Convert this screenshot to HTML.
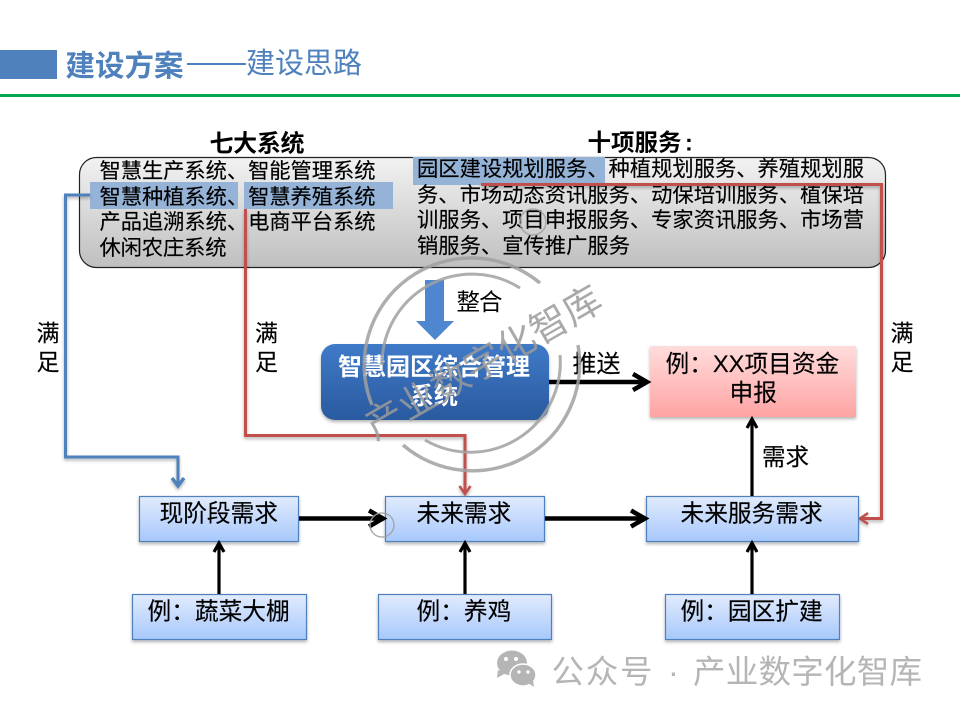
<!DOCTYPE html>
<html><head><meta charset="utf-8">
<style>
html,body{margin:0;padding:0;background:#fff;width:960px;height:720px;overflow:hidden}
svg{display:block}
text{font-family:"Liberation Sans","Noto Sans CJK SC",sans-serif;fill:#000}
</style></head>
<body>
<svg xmlns="http://www.w3.org/2000/svg" width="960" height="720" viewBox="0 0 960 720">
<defs>
<linearGradient id="g" x1="0" y1="0" x2="0" y2="1"><stop offset="0" stop-color="#f2f2f2"/><stop offset="1" stop-color="#bfbfbf"/></linearGradient>
<linearGradient id="b" x1="0" y1="0" x2="0" y2="1"><stop offset="0" stop-color="#e1ebfd"/><stop offset="1" stop-color="#a7c8fb"/></linearGradient>
<linearGradient id="p" x1="0" y1="0" x2="0" y2="1"><stop offset="0" stop-color="#ffdcdc"/><stop offset="1" stop-color="#ffa3a3"/></linearGradient>
<linearGradient id="d" x1="0" y1="0" x2="0" y2="1"><stop offset="0" stop-color="#3f7ac8"/><stop offset="1" stop-color="#2a5a9f"/></linearGradient>
<filter id="s" x="-10%" y="-10%" width="120%" height="130%"><feDropShadow dx="0" dy="2" stdDeviation="1.500" flood-color="#000" flood-opacity=".3"/></filter>
</defs>

<!-- header -->
<rect x="0" y="50" width="57" height="29" fill="#4f81bd"/>
<rect x="0" y="94" width="960" height="3" fill="#00a650"/>
<text x="65.500" y="76" font-size="29.500" font-weight="700" style="fill:#4f81bd" textLength="118">建设方案</text>
<rect x="187" y="63" width="59" height="2" fill="#4f81bd"/>
<text x="246" y="73" font-size="29" style="fill:#4f81bd" textLength="116">建设思路</text>

<!-- panel -->
<text x="209.500" y="151.500" font-size="24" font-weight="700" textLength="95">七大系统</text>
<text y="150.500" font-size="23.500" font-weight="700"><tspan x="587.500">十项服务</tspan><tspan x="685">:</tspan></text>
<rect x="79.500" y="157.500" width="806" height="110" rx="17" fill="url(#g)" stroke="#222" stroke-width="1.200"/>
<rect x="90" y="182" width="148" height="27" fill="#95b3d7"/>
<rect x="244" y="182" width="149" height="27" fill="#95b3d7"/>
<rect x="413" y="157" width="192" height="28" fill="#95b3d7"/>

<g font-size="21.300" stroke="#000" stroke-width=".15">
<text x="99.500" y="178" textLength="276">智慧生产系统、智能管理系统</text>
<text x="99.500" y="204" textLength="276">智慧种植系统、智慧养殖系统</text>
<text x="99.500" y="229" textLength="276">产品追溯系统、电商平台系统</text>
<text x="99.500" y="255" textLength="127">休闲农庄系统</text>
<text x="417" y="176" textLength="447">园区建设规划服务、种植规划服务、养殖规划服</text>
<text x="417" y="202" textLength="447">务、市场动态资讯服务、动保培训服务、植保培</text>
<text x="417" y="227" textLength="447">训服务、项目申报服务、专家资讯服务、市场营</text>
<text x="417" y="253" textLength="213">销服务、宣传推广服务</text>
</g>

<!-- connectors: red and blue -->
<g fill="none" stroke-width="3" filter="url(#s)">
<path d="M90 195H65.500V457H178V484" stroke="#4f81bd"/>
<path d="M172 478L178 486L184 478" stroke="#4f81bd" stroke-width="3.500"/>
<path d="M245.500 209V435.500H465V492" stroke="#c0504d"/>
<path d="M459.500 486L465 494L470.500 486" stroke="#c0504d" stroke-width="2.500"/>
<path d="M481 184.500H881.500V518.500H862" stroke="#c0504d"/>
<path d="M868 513L860 518.500L868 524" stroke="#c0504d" stroke-width="2.500"/>
</g>

<!-- integrate arrow -->
<polygon points="425,280 444,280 444,321 454,321 435,340 416,321 425,321" fill="#4f86d0"/>
<text x="456.500" y="310" font-size="23.500" textLength="46">整合</text>

<!-- central node -->
<rect x="321" y="344" width="228" height="76" rx="14" fill="url(#d)" filter="url(#s)"/>
<g font-size="24" font-weight="700" text-anchor="middle">
<text x="434" y="375" style="fill:#fff" textLength="192">智慧园区综合管理</text>
<text x="434" y="404" style="fill:#fff" textLength="48">系统</text>
</g>

<!-- pink node -->
<rect x="650" y="346" width="206" height="71" fill="url(#p)" filter="url(#s)"/>
<text y="372" font-size="23.700" stroke="#000" stroke-width=".15"><tspan x="665.500">例：XX项目资金</tspan></text>
<text x="729.500" y="401" font-size="23.700" stroke="#000" stroke-width=".15">申报</text>

<!-- blue nodes -->
<g fill="url(#b)" stroke="#4f81bd" stroke-width="1.200" filter="url(#s)">
<rect x="139.500" y="496.500" width="159" height="45"/>
<rect x="385.500" y="496.500" width="159" height="45"/>
<rect x="646.500" y="496.500" width="212" height="45"/>
<rect x="132.500" y="594.500" width="174" height="45"/>
<rect x="378.500" y="594.500" width="173" height="45"/>
<rect x="665.500" y="594.500" width="174" height="45"/>
</g>
<g font-size="23.700" stroke="#000" stroke-width=".15">
<text x="159.500" y="521.500">现阶段需求</text>
<text x="416.500" y="521.500">未来需求</text>
<text x="680.500" y="521.500">未来服务需求</text>
<text x="147.500" y="619.500">例：蔬菜大棚</text>
<text x="416.500" y="619.500">例：养鸡</text>
<text x="680.500" y="619.500">例：园区扩建</text>
</g>

<!-- black arrows -->
<g fill="none" stroke="#000">
<path d="M549 382H646" stroke-width="4.500"/>
<path d="M633 374L647 382L633 390" stroke-width="4.500"/>
<path d="M299 518.500H382" stroke-width="4.500"/>
<path d="M369 510.500L383 518.500L369 526.500" stroke-width="4.500"/>
<path d="M545 518.500H644" stroke-width="4.500"/>
<path d="M631 510.500L645 518.500L631 526.500" stroke-width="4.500"/>
<g stroke-width="3.200">
<path d="M219 594V544M214 552L219 543L224 552"/>
<path d="M465 594V544M460 552L465 543L470 552"/>
<path d="M752 594V544M747 552L752 543L757 552"/>
<path d="M752 496V420M747 428L752 419L757 428"/>
</g>
</g>
<text x="572.500" y="372" font-size="24" stroke="#000" stroke-width=".15">推送</text>
<text x="762" y="465" font-size="23.500" stroke="#000" stroke-width=".15">需求</text>

<!-- side labels -->
<g font-size="23" stroke="#000" stroke-width=".15">
<text x="36.500" y="341">满</text><text x="36.500" y="370">足</text>
<text x="255" y="341">满</text><text x="255" y="370">足</text>
<text x="890.500" y="341">满</text><text x="890.500" y="370">足</text>
</g>

<!-- watermark -->
<g fill="none" stroke="#a0a0a0" stroke-opacity=".85">
<path d="M372 405A107 107 0 0 1 540 283" stroke-width="3.500"/>
<path d="M578 345A107 107 0 0 1 403 445" stroke-width="3.500"/>
<path d="M382 365A90 90 0 0 1 520 288" stroke-width="3"/>
<path d="M560 355A90 90 0 0 1 425 440" stroke-width="3"/>
<circle cx="382" cy="525" r="12" stroke-width="1.500"/>
<circle cx="533" cy="222" r="13" stroke-width="1.500"/>
</g>
<text font-size="38" text-anchor="middle" transform="translate(490 374) rotate(-30)" style="fill:#9a9a9a;fill-opacity:.85">产业数字化智库</text>

<!-- footer watermark -->
<g fill="#b5b5b5">
<ellipse cx="512" cy="663" rx="15" ry="12.500"/>
<polygon points="498,670 497,678 506,673"/>
<ellipse cx="523" cy="675" rx="13" ry="11" stroke="#fff" stroke-width="1.500"/>
<polygon points="528,683 534,687 533,680"/>
</g>
<g fill="#fff"><circle cx="506" cy="659" r="2"/><circle cx="516" cy="659" r="2"/><circle cx="519" cy="672" r="1.700"/><circle cx="528" cy="672" r="1.700"/></g>
<g font-size="32.500" style="fill:#b5b5b5">
<text x="551.500" y="683" style="fill:#b5b5b5" textLength="101">公众号</text>
<text x="668" y="683" style="fill:#b5b5b5">·</text>
<text x="693" y="683" style="fill:#b5b5b5" textLength="229">产业数字化智库</text>
</g>
</svg>
</body></html>
